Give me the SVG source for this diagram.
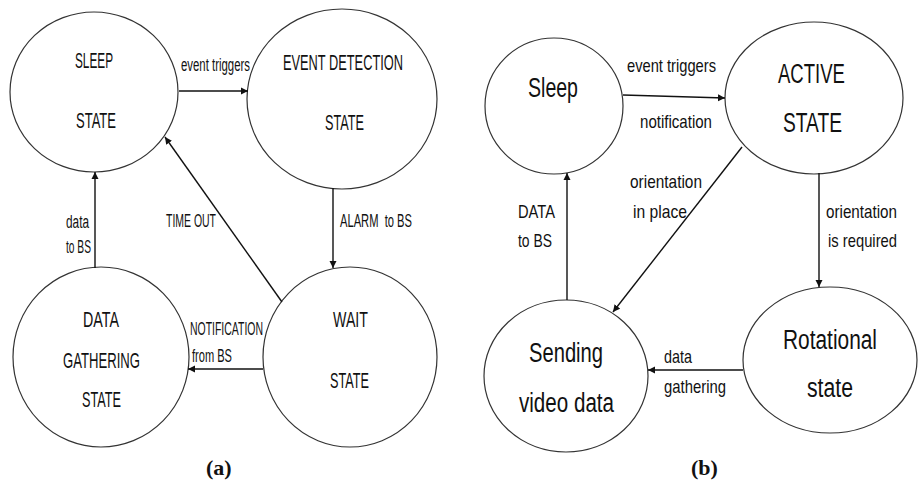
<svg xmlns="http://www.w3.org/2000/svg" width="920" height="484" viewBox="0 0 920 484">
  <defs>
    <marker id="arrow" markerWidth="8" markerHeight="8" refX="7" refY="4" orient="auto" markerUnits="userSpaceOnUse">
      <path d="M0,0.5 L7,4 L0,7.5 Z" fill="#111"/>
    </marker>
    <style>
      .state { fill: #fff; stroke: #333; stroke-width: 1.2; }
      .edge { stroke: #111; stroke-width: 1.4; fill: none; marker-end: url(#arrow); }
      text { font-family: "Liberation Sans", Arial, sans-serif; fill: #111; }
      .big { font-size: 22px; }
      .bigb { font-size: 27px; }
      .lbl { font-size: 18px; }
      .lblb { font-size: 19px; }
      .cap { font-family: "Liberation Serif", "Times New Roman", serif; font-weight: bold; font-size: 22px; }
      .pre { white-space: pre; }
    </style>
  </defs>
  <rect width="920" height="484" fill="#fff"/>

  <!-- (a) sensor node states -->
  <g id="a-sleep">
    <ellipse class="state" cx="94" cy="92" rx="84" ry="80"/>
    <text class="big" x="75" y="68" textLength="38" lengthAdjust="spacingAndGlyphs">SLEEP</text>
    <text class="big" x="76" y="128" textLength="40" lengthAdjust="spacingAndGlyphs">STATE</text>
  </g>
  <g id="a-event">
    <ellipse class="state" cx="342" cy="99" rx="95" ry="90"/>
    <text class="big" x="283" y="70" textLength="120" lengthAdjust="spacingAndGlyphs">EVENT DETECTION</text>
    <text class="big" x="325" y="130" textLength="39" lengthAdjust="spacingAndGlyphs">STATE</text>
  </g>
  <g id="a-gather">
    <ellipse class="state" cx="101" cy="357" rx="88" ry="90"/>
    <text class="big" x="83" y="327" textLength="36" lengthAdjust="spacingAndGlyphs">DATA</text>
    <text class="big" x="63" y="368" textLength="77" lengthAdjust="spacingAndGlyphs">GATHERING</text>
    <text class="big" x="82" y="407" textLength="39" lengthAdjust="spacingAndGlyphs">STATE</text>
  </g>
  <g id="a-wait">
    <ellipse class="state" cx="350" cy="357" rx="87" ry="90"/>
    <text class="big" x="333" y="327" textLength="35" lengthAdjust="spacingAndGlyphs">WAIT</text>
    <text class="big" x="330" y="388" textLength="39" lengthAdjust="spacingAndGlyphs">STATE</text>
  </g>

  <!-- (b) camera node states -->
  <g id="b-sleep">
    <ellipse class="state" cx="554" cy="106" rx="69" ry="68"/>
    <text class="bigb" x="528" y="97" textLength="50" lengthAdjust="spacingAndGlyphs">Sleep</text>
  </g>
  <g id="b-active">
    <ellipse class="state" cx="814" cy="98" rx="89" ry="76"/>
    <text class="bigb" x="778" y="83" textLength="67" lengthAdjust="spacingAndGlyphs">ACTIVE</text>
    <text class="bigb" x="783" y="132" textLength="59" lengthAdjust="spacingAndGlyphs">STATE</text>
  </g>
  <g id="b-sending">
    <ellipse class="state" cx="566" cy="376" rx="82" ry="76"/>
    <text class="bigb" x="529" y="362" textLength="74" lengthAdjust="spacingAndGlyphs">Sending</text>
    <text class="bigb" x="519" y="412" textLength="95" lengthAdjust="spacingAndGlyphs">video data</text>
  </g>
  <g id="b-rotational">
    <ellipse class="state" cx="830" cy="360" rx="87" ry="73"/>
    <text class="bigb" x="783" y="349" textLength="94" lengthAdjust="spacingAndGlyphs">Rotational</text>
    <text class="bigb" x="807" y="397" textLength="46" lengthAdjust="spacingAndGlyphs">state</text>
  </g>

  <!-- transitions -->
  <g id="connectors">
    <line class="edge" x1="179" y1="91" x2="248" y2="91"/>
    <line class="edge" x1="95" y1="268" x2="95" y2="172"/>
    <line class="edge" x1="282" y1="302" x2="165" y2="137"/>
    <line class="edge" x1="333" y1="188" x2="333" y2="268"/>
    <line class="edge" x1="263" y1="369" x2="188" y2="369"/>

    <line class="edge" x1="623" y1="95" x2="725" y2="98"/>
    <line class="edge" x1="567" y1="300" x2="567" y2="173"/>
    <line class="edge" x1="742" y1="147" x2="613" y2="312"/>
    <line class="edge" x1="819" y1="173" x2="819" y2="287"/>
    <line class="edge" x1="743" y1="370" x2="648" y2="370"/>
  </g>

  <!-- transition labels -->
  <g id="labels">
    <text class="lbl" x="181" y="71" textLength="69" lengthAdjust="spacingAndGlyphs">event triggers</text>
    <text class="lbl" x="66" y="228" textLength="23" lengthAdjust="spacingAndGlyphs">data</text>
    <text class="lbl" x="66" y="253" textLength="25" lengthAdjust="spacingAndGlyphs">to BS</text>
    <text class="lbl" x="166" y="227" textLength="50" lengthAdjust="spacingAndGlyphs">TIME OUT</text>
    <text class="lbl pre" x="340" y="227" textLength="72" lengthAdjust="spacingAndGlyphs">ALARM  to BS</text>
    <text class="lbl" x="190" y="335" textLength="73" lengthAdjust="spacingAndGlyphs">NOTIFICATION</text>
    <text class="lbl" x="192" y="362" textLength="40" lengthAdjust="spacingAndGlyphs">from BS</text>

    <text class="lblb" x="627" y="72" textLength="89" lengthAdjust="spacingAndGlyphs">event triggers</text>
    <text class="lblb" x="640" y="128" textLength="72" lengthAdjust="spacingAndGlyphs">notification</text>
    <text class="lblb" x="518" y="218" textLength="37" lengthAdjust="spacingAndGlyphs">DATA</text>
    <text class="lblb" x="518" y="247" textLength="34" lengthAdjust="spacingAndGlyphs">to BS</text>
    <text class="lblb" x="630" y="188" textLength="72" lengthAdjust="spacingAndGlyphs">orientation</text>
    <text class="lblb" x="633" y="218" textLength="54" lengthAdjust="spacingAndGlyphs">in place</text>
    <text class="lblb" x="826" y="218" textLength="71" lengthAdjust="spacingAndGlyphs">orientation</text>
    <text class="lblb" x="828" y="247" textLength="69" lengthAdjust="spacingAndGlyphs">is required</text>
    <text class="lblb" x="664" y="363" textLength="28" lengthAdjust="spacingAndGlyphs">data</text>
    <text class="lblb" x="664" y="393" textLength="62" lengthAdjust="spacingAndGlyphs">gathering</text>
  </g>

  <!-- panel captions -->
  <text class="cap" x="206" y="475">(a)</text>
  <text class="cap" x="691" y="475">(b)</text>
</svg>
